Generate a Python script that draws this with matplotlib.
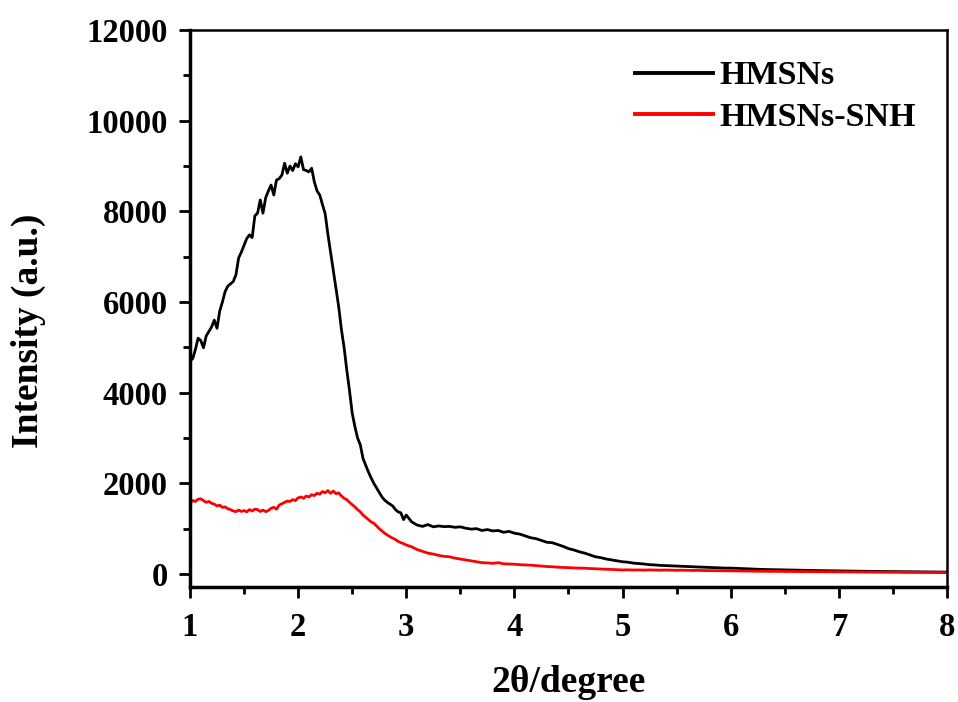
import numpy as np
import matplotlib
matplotlib.use("Agg")
import matplotlib.pyplot as plt
from matplotlib.ticker import MultipleLocator

# x grid: fine step in the peak region, coarser afterwards
x_fine = np.round(np.arange(1.0, 3.0001, 0.025), 3)
x_coarse = np.round(np.arange(3.05, 8.0001, 0.05), 3)
two_theta = np.concatenate([x_fine, x_coarse])

hmsns = [
    4700, 4750, 4950, 5200, 5150, 4990, 5250, 5350, 5450, 5600,
    5420, 5800, 6000, 6230, 6350, 6400, 6450, 6600, 6970, 7100,
    7250, 7400, 7480, 7420, 7900, 7960, 8250, 7960, 8300, 8450,
    8580, 8360, 8690, 8720, 8800, 9060, 8840, 9000, 8900, 9050,
    8980, 9200, 8920, 8900, 8870, 8950, 8650, 8450, 8360, 8150,
    7950, 7500, 7100, 6700, 6300, 5900, 5400, 5000, 4500, 4050,
    3550, 3250, 3000, 2850, 2550, 2400, 2250, 2120, 2000, 1900,
    1800, 1700, 1630, 1580, 1540, 1500, 1420, 1370, 1350, 1200,
    1300,
    1150, 1080, 1050, 1090, 1040, 1060, 1045, 1050, 1030, 1040,
    1010, 990, 1000, 960, 980, 950, 960, 920, 940, 900,
    880, 840, 800, 780, 740, 700, 690, 650, 610, 560,
    530, 490, 460, 420, 380, 360, 330, 310, 290, 270,
    260, 240, 230, 220, 205, 200, 190, 185, 180, 175,
    170, 165, 160, 155, 150, 145, 140, 135, 130, 130,
    125, 120, 115, 110, 105, 100, 98, 95, 92, 90,
    88, 85, 82, 80, 78, 76, 74, 72, 70, 70,
    68, 66, 64, 62, 60, 58, 57, 56, 55, 54,
    53, 52, 51, 50, 50, 48, 46, 45, 44, 42,
]

hmsns_snh = [
    1560, 1620, 1600, 1650, 1660, 1620, 1580, 1600, 1560, 1540,
    1500, 1520, 1470, 1480, 1440, 1420, 1390, 1375, 1410, 1380,
    1400, 1370, 1420, 1390, 1430, 1420, 1380, 1410, 1375, 1400,
    1450, 1470, 1430, 1520, 1550, 1580, 1610, 1600, 1640, 1620,
    1680, 1700, 1670, 1720, 1700, 1750, 1730, 1780, 1760, 1820,
    1790, 1840, 1780, 1830, 1770, 1790, 1720, 1670, 1640, 1580,
    1530, 1480, 1420, 1370, 1300, 1250, 1200, 1150, 1120, 1060,
    1000, 950, 900, 860, 820, 790, 760, 720, 690, 670,
    640,
    600, 540, 500, 460, 440, 410, 390, 380, 350, 330,
    310, 290, 270, 250, 245, 235, 250, 225, 220, 215,
    205, 200, 195, 185, 175, 165, 160, 150, 145, 140,
    135, 130, 128, 120, 115, 110, 105, 100, 95, 90,
    92, 88, 90, 86, 90, 87, 85, 88, 84, 82,
    84, 80, 78, 80, 76, 75, 74, 72, 70, 70,
    68, 66, 65, 64, 62, 60, 60, 58, 57, 56,
    55, 54, 52, 50, 50, 48, 47, 46, 45, 45,
    44, 43, 42, 42, 41, 40, 40, 39, 38, 38,
    37, 36, 36, 35, 34, 34, 33, 32, 31, 30,
]

series_labels = ["HMSNs", "HMSNs-SNH"]
series_colors = ["black", "red"]

plt.rcParams['font.family'] = ['Liberation Serif', 'DejaVu Serif']
plt.rcParams['font.weight'] = 'bold'

fig = plt.figure(figsize=(9.58, 7.02), dpi=100)
ax = fig.add_axes([0.1983, 0.1638, 0.7902, 0.7935])

for ys, lab, col in zip([hmsns, hmsns_snh], series_labels, series_colors):
    ax.plot(two_theta, ys, color=col, lw=2.0, label=lab)

ax.set_xlim(1, 8)
ax.set_ylim(-287, 12000)
ax.xaxis.set_major_locator(MultipleLocator(1))
ax.xaxis.set_minor_locator(MultipleLocator(0.5))
ax.yaxis.set_major_locator(MultipleLocator(2000))
ax.yaxis.set_minor_locator(MultipleLocator(1000))
ax.tick_params(which='both', direction='out', top=False, right=False, width=2)
ax.tick_params(which='major', length=8, labelsize=23.5)
ax.tick_params(which='minor', length=5)
ax.tick_params(axis='x', which='major', pad=10)
ax.tick_params(axis='y', which='major', pad=8)
for lbl in ax.get_xticklabels() + ax.get_yticklabels():
    lbl.set_fontweight('bold')

ax.spines['left'].set_linewidth(2.5)
ax.spines['bottom'].set_linewidth(2.5)
ax.spines['top'].set_linewidth(1.8)
ax.spines['right'].set_linewidth(1.8)

ax.set_xlabel('2θ/degree', fontsize=27, fontweight='bold')
ax.xaxis.set_label_coords(0.5, -0.14)
ax.set_ylabel('Intensity (a.u.)', fontsize=27, fontweight='bold')
ax.yaxis.set_label_coords(-0.19, 0.46)

leg = ax.legend(loc='upper right', frameon=False, fontsize=24.5,
                handlelength=2.3, handletextpad=0.2, labelspacing=0.31,
                borderaxespad=0.3, bbox_to_anchor=(0.991, 0.988))
for t in leg.get_texts():
    t.set_fontweight('bold')
for h in leg.get_lines():
    h.set_linewidth(2.8)

fig.savefig('out.png', dpi=100)
